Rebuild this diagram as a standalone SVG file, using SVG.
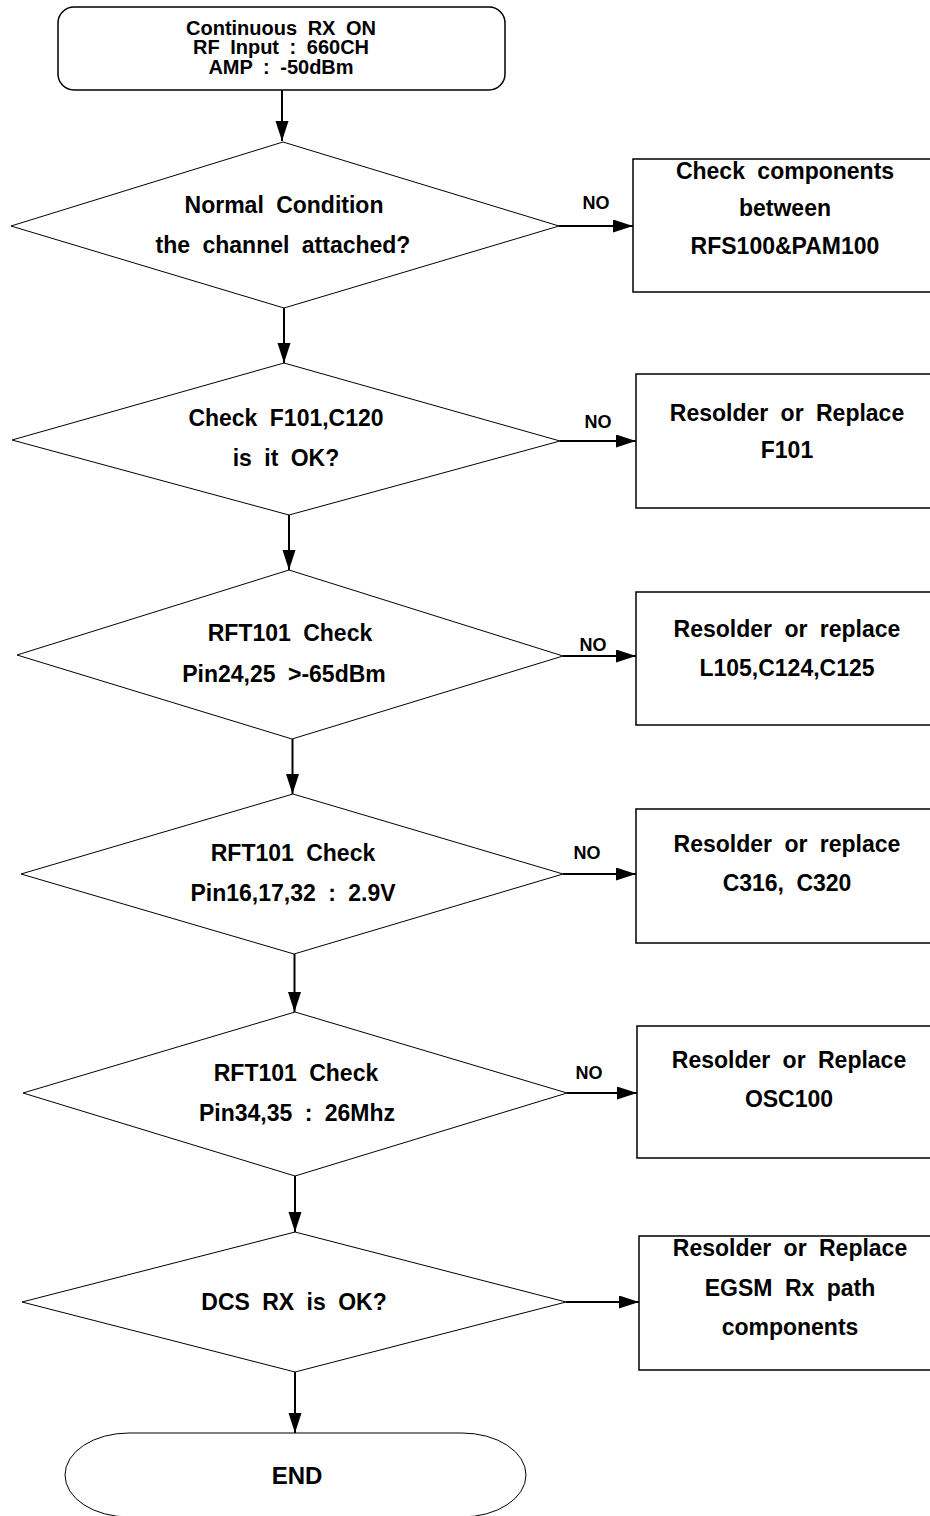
<svg xmlns="http://www.w3.org/2000/svg" width="930" height="1516" viewBox="0 0 930 1516">
<defs>
<marker id="ah" markerUnits="userSpaceOnUse" markerWidth="20" markerHeight="14" refX="20" refY="6.5" orient="auto">
<path d="M0,0 L20,6.5 L0,13 z" fill="#000"/>
</marker>
<style>
.t{font-family:"Liberation Sans",Arial,sans-serif;font-weight:bold;fill:#000;text-anchor:middle}
.d{font-size:23px;word-spacing:6px}
.b{font-size:23px;word-spacing:6px}
.s{font-size:20px;word-spacing:5px}
.no{font-size:18px}
.dia{fill:#fff;stroke:#000;stroke-width:1}
.box{fill:#fff;stroke:#000;stroke-width:1.5}
.c{stroke:#000;stroke-width:2;fill:none;marker-end:url(#ah)}
</style>
</defs>
<rect width="930" height="1516" fill="#fff"/>

<g id="start">
<rect class="box" x="58" y="7" width="447" height="83" rx="16" ry="16"/>
<text class="t s" x="281" y="35">Continuous RX ON</text>
<text class="t s" x="281" y="54">RF Input : 660CH</text>
<text class="t s" x="281" y="74">AMP : -50dBm</text>
</g>

<g id="d1">
<polygon class="dia" points="283,142 559,226 284,308 11,226"/>
<text class="t d" x="284" y="213">Normal Condition</text>
<text class="t d" x="283" y="253">the channel attached?</text>
</g>
<g id="b1">
<rect class="box" x="633" y="159" width="302" height="133"/>
<text class="t b" x="785" y="179">Check components</text>
<text class="t b" x="785" y="216">between</text>
<text class="t b" x="785" y="254">RFS100&amp;PAM100</text>
</g>

<g id="d2">
<polygon class="dia" points="284,363 560,441 289,515 12,440"/>
<text class="t d" x="286" y="426">Check F101,C120</text>
<text class="t d" x="286" y="466">is it OK?</text>
</g>
<g id="b2">
<rect class="box" x="636" y="374" width="299" height="134"/>
<text class="t b" x="787" y="421">Resolder or Replace</text>
<text class="t b" x="787" y="458">F101</text>
</g>

<g id="d3">
<polygon class="dia" points="289,570 563,656 292,739 17,655"/>
<text class="t d" x="290" y="641">RFT101 Check</text>
<text class="t d" x="284" y="682">Pin24,25 &gt;-65dBm</text>
</g>
<g id="b3">
<rect class="box" x="636" y="592" width="299" height="133"/>
<text class="t b" x="787" y="637">Resolder or replace</text>
<text class="t b" x="787" y="676">L105,C124,C125</text>
</g>

<g id="d4">
<polygon class="dia" points="293,794 563,874 294,954 21,874"/>
<text class="t d" x="293" y="861">RFT101 Check</text>
<text class="t d" x="293" y="901">Pin16,17,32 : 2.9V</text>
</g>
<g id="b4">
<rect class="box" x="636" y="809" width="299" height="134"/>
<text class="t b" x="787" y="852">Resolder or replace</text>
<text class="t b" x="787" y="891">C316, C320</text>
</g>

<g id="d5">
<polygon class="dia" points="295,1012 567,1093 295,1176 23,1093"/>
<text class="t d" x="296" y="1081">RFT101 Check</text>
<text class="t d" x="297" y="1121">Pin34,35 : 26Mhz</text>
</g>
<g id="b5">
<rect class="box" x="637" y="1026" width="298" height="132"/>
<text class="t b" x="789" y="1068">Resolder or Replace</text>
<text class="t b" x="789" y="1107">OSC100</text>
</g>

<g id="d6">
<polygon class="dia" points="295,1232 566,1302 295,1372 22,1302"/>
<text class="t d" x="294" y="1310">DCS RX is OK?</text>
</g>
<g id="b6">
<rect class="box" x="639" y="1236" width="296" height="134"/>
<text class="t b" x="790" y="1256">Resolder or Replace</text>
<text class="t b" x="790" y="1296">EGSM Rx path</text>
<text class="t b" x="790" y="1335">components</text>
</g>

<g id="end">
<rect class="dia" x="65" y="1433" width="461" height="84" rx="64" ry="42"/>
<text class="t" style="font-size:24px" x="297" y="1484">END</text>
</g>

<g id="connectors">
<line class="c" x1="282" y1="90" x2="282" y2="141"/>
<line class="c" x1="284" y1="308" x2="284" y2="363"/>
<line class="c" x1="289" y1="515" x2="289" y2="570"/>
<line class="c" x1="292.5" y1="739" x2="292.5" y2="794"/>
<line class="c" x1="294.5" y1="954" x2="294.5" y2="1012"/>
<line class="c" x1="295" y1="1176" x2="295" y2="1232"/>
<line class="c" x1="295" y1="1372" x2="295" y2="1433"/>
<line class="c" x1="559" y1="226" x2="633" y2="226"/>
<line class="c" x1="560" y1="441" x2="636" y2="441"/>
<line class="c" x1="563" y1="656" x2="636" y2="656"/>
<line class="c" x1="563" y1="874" x2="636" y2="874"/>
<line class="c" x1="567" y1="1093" x2="637" y2="1093"/>
<line class="c" x1="566" y1="1302" x2="639" y2="1302"/>
<text class="t no" x="596" y="209">NO</text>
<text class="t no" x="598" y="428">NO</text>
<text class="t no" x="593" y="651">NO</text>
<text class="t no" x="587" y="859">NO</text>
<text class="t no" x="589" y="1079">NO</text>
</g>
</svg>
